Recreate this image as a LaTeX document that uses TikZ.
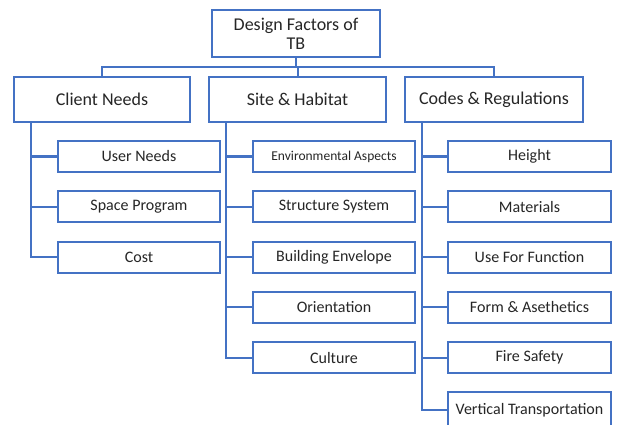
\documentclass[tikz,border=0pt]{standalone}
\usepackage{fontspec}
\setmainfont{Carlito}
\definecolor{lineblue}{HTML}{4472C4}
\definecolor{textgray}{HTML}{262626}
\tikzset{
  factorbox/.style={draw=lineblue, line width=2pt, fill=white, text=textgray,
    inner sep=0pt, font=\fontsize{18}{20}\selectfont},
  itembox/.style={factorbox, minimum width=162pt, minimum height=31pt,
    font=\fontsize{16}{18}\selectfont},
  link/.style={draw=lineblue, line width=2pt},
}
\begin{document}
\begin{tikzpicture}[x=1pt, y=-1pt]
  \useasboundingbox (0,0) rectangle (621,425);

  \node[factorbox, minimum width=168pt, minimum height=47pt, align=center] (top) at (296,33.5)
    {Design Factors of\\[-1pt]TB};
  \node[factorbox, minimum width=176pt, minimum height=45pt] (cn) at (102,99.5) {Client Needs};
  \node[factorbox, minimum width=177pt, minimum height=45pt] (sh) at (297.5,99.5) {Site \& Habitat};
  \node[factorbox, minimum width=178pt, minimum height=45pt] (cr) at (494,99.5) {Codes \& Regulations};

  \coordinate (bus) at (297,67);
  \draw[link] (top.south) -- (top.south |- bus);
  \draw[link] (cn.north) -- (cn.north |- bus) -| (cr.north);
  \draw[link] (sh.north) -- (sh.north |- bus);

  % client needs
  \foreach \i/\name in {0/User Needs, 1/Space Program, 2/Cost} {
    \node[itembox] (cn\i) at (139,156.5+50.3*\i) {\name};
    \draw[link] ([xshift=18pt]cn.south west) |- (cn\i.west);
  }

  % site and habitat
  \node[itembox, font=\fontsize{13.5}{15}\selectfont] (sh0) at (334,156.5) {Environmental Aspects};
  \draw[link] ([xshift=18pt]sh.south west) |- (sh0.west);
  \foreach \i/\name in {1/Structure System, 2/Building Envelope, 3/Orientation, 4/Culture} {
    \node[itembox] (sh\i) at (334,156.5+50.3*\i) {\name};
    \draw[link] ([xshift=18pt]sh.south west) |- (sh\i.west);
  }

  % codes and regulations
  \foreach \i/\name in {0/Height, 1/Materials, 2/Use For Function, 3/Form \& Asethetics, 4/Fire Safety} {
    \node[itembox, minimum width=163pt] (cr\i) at (529.5,156.5+50.3*\i) {\name};
    \draw[link] ([xshift=18pt]cr.south west) |- (cr\i.west);
  }
  \node[itembox, minimum width=163pt, minimum height=36pt] (cr5) at (529.5,410) {Vertical Transportation};
  \draw[link] ([xshift=18pt]cr.south west) |- (cr5.west);
\end{tikzpicture}
\end{document}
